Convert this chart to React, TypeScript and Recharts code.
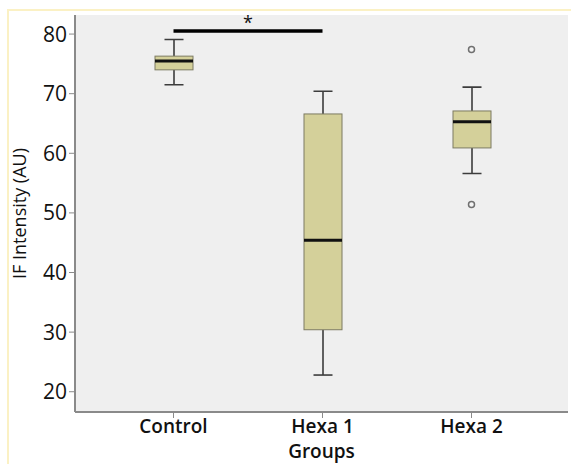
import {
    ComposedChart,
    Bar,
    Scatter,
    XAxis,
    YAxis,
    CartesianGrid,
    ReferenceLine,
    Label,
} from "recharts";

const categories = ["Control", "Hexa 1", "Hexa 2"];
const whiskerLow = [71.5, 22.8, 56.6];
const q1 = [74.0, 30.4, 60.9];
const median = [75.5, 45.4, 65.3];
const q3 = [76.3, 66.6, 67.1];
const whiskerHigh = [79.1, 70.4, 71.1];
const outlierHigh = [null, null, 77.4];
const outlierLow = [null, null, 51.4];
const yTicks = [20, 30, 40, 50, 60, 70, 80];
const sigLevel = 80.5;

const data = categories.map((name, i) => ({
    name,
    range: [whiskerLow[i], whiskerHigh[i]],
    lo: whiskerLow[i],
    q1: q1[i],
    med: median[i],
    q3: q3[i],
    hi: whiskerHigh[i],
    outHi: outlierHigh[i],
    outLo: outlierLow[i],
}));

const font = "'Open Sans', 'Noto Sans', sans-serif";

function BoxShape(props: any) {
    const { x, y, width, height, payload } = props;
    if (x == null || y == null) return null;
    const { lo, hi } = payload;
    const py = (v: number) => y + ((hi - v) / (hi - lo)) * height;
    const cx = x + width / 2;
    const cap = 19;
    const wStroke = "#3c3c3c";
    return (
        <g>
            <line x1={cx} x2={cx} y1={py(hi)} y2={py(payload.q3)} stroke={wStroke} strokeWidth={1.6} />
            <line x1={cx} x2={cx} y1={py(payload.q1)} y2={py(lo)} stroke={wStroke} strokeWidth={1.6} />
            <line x1={cx - cap / 2} x2={cx + cap / 2} y1={py(hi)} y2={py(hi)} stroke={wStroke} strokeWidth={1.6} />
            <line x1={cx - cap / 2} x2={cx + cap / 2} y1={py(lo)} y2={py(lo)} stroke={wStroke} strokeWidth={1.6} />
            <rect
                x={x}
                y={py(payload.q3)}
                width={width}
                height={py(payload.q1) - py(payload.q3)}
                fill="#d4d09a"
                stroke="#7d7b62"
                strokeWidth={1}
            />
            <line x1={x} x2={x + width} y1={py(payload.med)} y2={py(payload.med)} stroke="#111" strokeWidth={3} />
        </g>
    );
}

function Outlier(props: any) {
    const { cx, cy } = props;
    if (cx == null || cy == null || isNaN(cy)) return null;
    return <circle cx={cx} cy={cy} r={3} fill="#f4f4f4" stroke="#707070" strokeWidth={1.5} />;
}

export default function App() {
    return (
        <div style={{ position: "absolute", left: 0, top: 0, width: 571, height: 464, background: "#fff", overflow: "hidden" }}>
            <div
                style={{
                    position: "absolute",
                    left: 7,
                    top: 9,
                    width: 580,
                    height: 470,
                    borderLeft: "2px solid #fbf1c4",
                    borderTop: "2px solid #fbf1c4",
                }}
            />
            <div style={{ position: "absolute", left: 0, top: 0 }}>
                <ComposedChart
                    width={571}
                    height={464}
                    data={data}
                    margin={{ top: 15, right: 3, bottom: 0, left: 0 }}
                >
                    <CartesianGrid fill="#efefef" stroke="none" />
                    <XAxis
                        dataKey="name"
                        type="category"
                        height={52}
                        padding={{ left: 24, right: 22 }}
                        axisLine={{ stroke: "#8a8a8a", strokeWidth: 2 }}
                        tickLine={{ stroke: "#8a8a8a" }}
                        tickSize={6}
                        tick={{ fontSize: 19, fontWeight: 600, fill: "#111", fontFamily: font }}
                    >
                        <Label
                            value="Groups"
                            position="insideBottom"
                            offset={6}
                            style={{ fontSize: 19, fontWeight: 600, fill: "#111", fontFamily: font }}
                        />
                    </XAxis>
                    <XAxis xAxisId="top" orientation="top" height={0} tick={false} tickLine={false} axisLine={{ stroke: "#9a9a9a", strokeWidth: 2 }} />
                    <YAxis
                        type="number"
                        domain={[16.6, 83.2]}
                        ticks={yTicks}
                        allowDataOverflow
                        width={75}
                        axisLine={{ stroke: "#8a8a8a", strokeWidth: 2 }}
                        tickLine={{ stroke: "#8a8a8a" }}
                        tickSize={6}
                        tick={{ fontSize: 21, fontWeight: 500, fill: "#111", fontFamily: font }}
                    >
                        <Label
                            value="IF Intensity (AU)"
                            angle={-90}
                            position="insideLeft"
                            offset={20}
                            style={{ textAnchor: "middle", fontSize: 18, fill: "#111", fontFamily: font }}
                        />
                    </YAxis>
                    <YAxis yAxisId="right" orientation="right" width={0} tick={false} tickLine={false} axisLine={{ stroke: "#c8c8c8", strokeWidth: 1 }} />
                    <Bar dataKey="range" barSize={38} shape={BoxShape} isAnimationActive={false} />
                    <Scatter dataKey="outHi" shape={Outlier} isAnimationActive={false} />
                    <Scatter dataKey="outLo" shape={Outlier} isAnimationActive={false} />
                    <ReferenceLine
                        segment={[
                            { x: categories[0], y: sigLevel },
                            { x: categories[1], y: sigLevel },
                        ]}
                        stroke="#000"
                        strokeWidth={3.5}
                    >
                        <Label value="*" position="top" offset={2} style={{ fontSize: 18, fill: "#111", fontFamily: font }} />
                    </ReferenceLine>
                </ComposedChart>
            </div>
        </div>
    );
}
